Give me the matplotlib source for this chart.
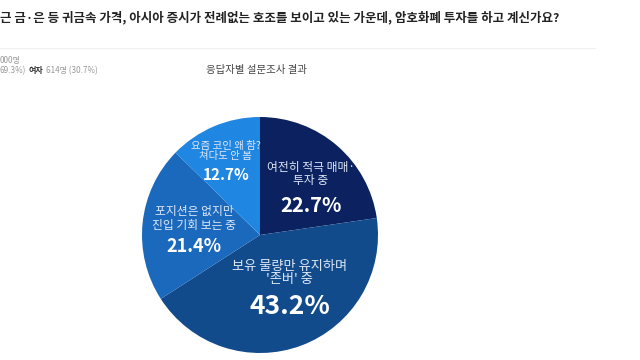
import matplotlib
matplotlib.use("Agg")
import matplotlib.pyplot as plt

plt.rcParams['font.family'] = ['Noto Sans CJK KR', 'DejaVu Sans']

# survey data (clockwise from 12 o'clock)
labels = ["여전히 적극 매매·\n투자 중", "보유 물량만 유지하며\n'존버' 중",
          "포지션은 없지만\n진입 기회 보는 중", "요즘 코인 왜 함?\n쳐다도 안 봄"]
shares = [22.7, 43.2, 21.4, 12.7]
colors = ["#0c2260", "#114b8b", "#1a69bd", "#1f86e2"]

title = "근 금·은 등 귀금속 가격, 아시아 증시가 전례없는 호조를 보이고 있는 가운데, 암호화폐 투자를 하고 계신가요?"
subtitle = "응답자별 설문조사 결과"

# percentage anchor points (pie radius units), gap to label text (pt), font sizes
pct_pos = [(0.43, 0.25), (0.25, -0.61), (-0.56, -0.10), (-0.29, 0.51)]
gap_pt = [13, 15, 11, 10]
pct_size = [14.5, 19, 13, 11]
lab_size = [8.5, 9.5, 8.5, 7.5]

fig = plt.figure(figsize=(6.4, 3.6), dpi=100)
fig.patch.set_facecolor("white")

fig.text(0.0, 0.95, title, fontsize=9.0, fontweight="bold", color="#222222",
         ha="left", va="center")
fig.add_artist(plt.Line2D([0, 0.93], [0.867, 0.867], color="#f0f0f0", lw=0.8))
fig.text(0.0, 0.831, "000명", fontsize=5.8, color="#999999", ha="left", va="center")
fig.text(0.0, 0.803, "69.3%)", fontsize=5.8, color="#999999", ha="left", va="center")
fig.text(0.045, 0.803, "여자", fontsize=5.8, color="#333333", fontweight="bold",
         ha="left", va="center")
fig.text(0.072, 0.803, "614명 (30.7%)", fontsize=5.8, color="#999999", ha="left", va="center")
fig.text(0.40, 0.805, subtitle, fontsize=7.5, color="#444444", ha="center", va="center")

# pie centred at ~(261, 235) px with radius ~118 px
ax = fig.add_axes([142 / 640, 7 / 360, 236 / 640, 236 / 360])
wedges, _ = ax.pie(shares, colors=colors, startangle=90, counterclock=False,
                   radius=1, wedgeprops=dict(linewidth=0))
ax.set_xlim(-1, 1)
ax.set_ylim(-1, 1)
ax.set_aspect("equal")
ax.axis("off")

for (x, y), lab, val, gap, ps, ls in zip(pct_pos, labels, shares, gap_pt, pct_size, lab_size):
    ax.text(x, y, f"{val}%", ha="center", va="center", color="white",
            fontsize=ps, fontweight="bold")
    ax.annotate(lab, (x, y), xytext=(0, gap), textcoords="offset points",
                ha="center", va="bottom", color="#dfe8f7",
                fontsize=ls, linespacing=1.05)

fig.savefig("out.png", dpi=100, facecolor="white")
